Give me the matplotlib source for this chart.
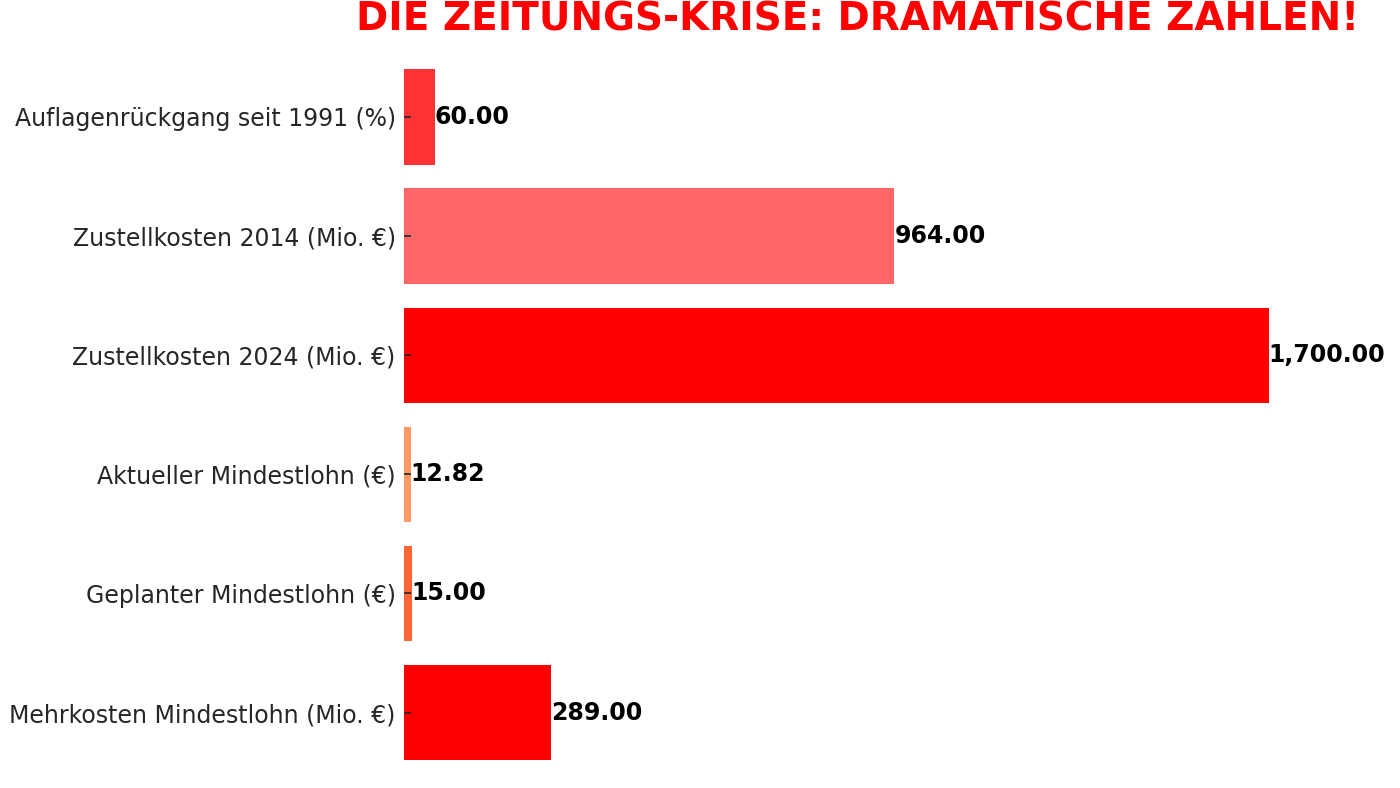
import matplotlib

matplotlib.use("Agg")
import matplotlib.pyplot as plt

# chart data, top to bottom
categories = [
    "Auflagenrückgang seit 1991 (%)",
    "Zustellkosten 2014 (Mio. €)",
    "Zustellkosten 2024 (Mio. €)",
    "Aktueller Mindestlohn (€)",
    "Geplanter Mindestlohn (€)",
    "Mehrkosten Mindestlohn (Mio. €)",
]
values = [60.00, 964.00, 1700.00, 12.82, 15.00, 289.00]
bar_colors = ["#ff3333", "#ff6666", "#ff0000", "#ff9966", "#ff6633", "#ff0000"]
title = "DIE ZEITUNGS-KRISE: DRAMATISCHE ZAHLEN!"

fig = plt.figure(figsize=(14, 7.88), dpi=100)
ax = fig.add_axes([0.2886, -0.0085, 0.6486, 0.9644])

ypos = list(range(len(categories)))
ax.barh(ypos, values, color=bar_colors, height=0.8)
ax.invert_yaxis()
ax.set_yticks(ypos)
ax.set_yticklabels(categories, fontsize=17, color="#262626")
ax.tick_params(axis="y", direction="in", length=5, width=1.2, pad=6,
               color="#262626")
ax.set_xticks([])
for side in ("top", "right", "bottom", "left"):
    ax.spines[side].set_visible(False)

for y, v in zip(ypos, values):
    ax.text(v, y, f"{v:,.2f}", ha="left", va="center",
            fontsize=17, fontweight="bold", color="black")

# centred over the axes, kept just inside the top edge
ax_box = ax.get_position()
fig.text((ax_box.x0 + ax_box.x1) / 2, 0.999, title, ha="center", va="top",
         fontsize=28, fontweight="bold", color="#ff0000")

fig.savefig("out.png", dpi=100)
